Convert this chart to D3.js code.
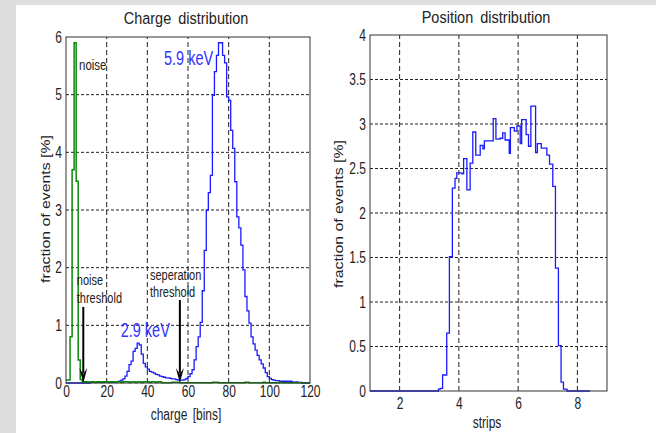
<!DOCTYPE html>
<html lang="en">
<head>
<meta charset="UTF-8">
<title>Charge and position distribution</title>
<script src="https://d3js.org/d3.v7.min.js"></script>
<style>
  body { margin: 0; }
  svg { display: block; font-family: "Liberation Sans", Arial, sans-serif; }
</style>
</head>
<body>
<script>
// ---- data ----
// charge histogram: bin i covers [i, i+1)
const chargeEdges = d3.range(0, 121);
const blueFrac = [
  0, 0, 0, 0, 0, 0, 0, 0, 0, 0,
  0, 0, 0.01, 0.02, 0.01, 0.01, 0.01, 0.01, 0.01, 0.02,
  0.02, 0.01, 0.01, 0.01, 0.01, 0.02, 0.03, 0.05, 0.07, 0.12,
  0.2, 0.32, 0.38, 0.55, 0.6, 0.69, 0.66, 0.5, 0.34, 0.28,
  0.24, 0.2, 0.19, 0.17, 0.15, 0.14, 0.12, 0.11, 0.1, 0.09,
  0.09, 0.08, 0.07, 0.07, 0.06, 0.05, 0.05, 0.05, 0.06, 0.08,
  0.11, 0.16, 0.23, 0.4, 0.63, 0.8, 1.05, 1.6, 2.3, 3.0,
  3.3, 3.6, 4.99, 5.4, 5.68, 5.9, 5.9, 5.68, 5.55, 4.96,
  4.9, 4.38, 4.07, 3.49, 2.88, 2.69, 2.39, 1.96, 1.5, 1.25,
  1.04, 0.8, 0.68, 0.57, 0.48, 0.4, 0.33, 0.26, 0.18, 0.11,
  0.08, 0.06, 0.05, 0.04, 0.04, 0.03, 0.03, 0.03, 0.03, 0.03,
  0.03, 0.02, 0.01, 0.02, 0.01, 0.01, 0, 0, 0, 0
];
const greenFrac = [
  0.05, 0.05, 0.8, 3.7, 5.9, 3.5, 0.4, 0.06, 0.02, 0.02,
  0.02, 0.01, 0.02, 0.02, 0.01, 0.02, 0.02, 0.01, 0.02, 0.02,
  0.02, 0.01, 0.02, 0.02, 0.01, 0.02, 0.02, 0.01, 0.02, 0.02,
  0.02, 0.01, 0.02, 0.02, 0.01, 0.02, 0.02, 0.01, 0.02, 0.02,
  0.02, 0.01, 0.02, 0.02, 0.01, 0.02, 0.02, 0.005, 0.005, 0.005,
  0.005, 0.005, 0.015, 0.015, 0.015, 0.015, 0.005, 0.005, 0.005, 0.005,
  0.005, 0.005, 0.005, 0.005, 0.005, 0.005, 0.005, 0.005, 0.005, 0.005,
  0.005, 0.005, 0.015, 0.015, 0.015, 0.005, 0.005, 0.005, 0.005, 0.005,
  0.005, 0.005, 0.005, 0.005, 0.005, 0.005, 0.005, 0.005, 0.015, 0.015,
  0.005, 0.005, 0.005, 0.005, 0.005, 0.005, 0.005, 0.015, 0.005, 0.005,
  0.005, 0.005, 0.005, 0.005, 0.005, 0.015, 0.005, 0.005, 0.005, 0.005,
  0.005, 0.005, 0.005, 0.005, 0.005, 0.005, 0.005, 0.005, 0.005, 0.005
];
const chargeTicks = [0, 20, 40, 60, 80, 100, 120];
const chargeFracTicks = [0, 1, 2, 3, 4, 5, 6];

// position histogram: step i covers [stripEdges[i], stripEdges[i+1])
const stripEdges = [1.00, 3.31, 3.37, 3.45, 3.59, 3.68, 3.78, 3.87, 3.93, 4.10, 4.16,
  4.27, 4.38, 4.47, 4.57, 4.72, 4.81, 4.86, 5.16, 5.25, 5.39, 5.48, 5.56, 5.70, 5.74,
  5.87, 5.96, 6.07, 6.12, 6.27, 6.35, 6.43, 6.59, 6.65, 6.78, 6.97, 7.06, 7.17, 7.26,
  7.36, 7.45, 7.53, 7.65, 8.43];
const stripFrac = [0, 0.02, 0.03, 0.18, 0.65, 1.51, 2.28, 2.39, 2.45, 2.44, 2.61,
  2.26, 2.56, 2.91, 2.65, 2.76, 2.72, 2.81, 3.06, 2.83, 2.84, 2.90, 2.82, 2.67, 2.96,
  2.92, 2.98, 2.78, 3.05, 2.88, 2.75, 3.20, 2.68, 2.78, 2.73, 2.65, 2.55, 2.30, 1.38,
  0.51, 0.10, 0.02, 0];
const stripTicks = [2, 4, 6, 8];
const stripFracTicks = [0, 0.5, 1, 1.5, 2, 2.5, 3, 3.5, 4];

// thresholds (charge, arrow top in %)
const thresholdNames = [["noise", "threshold"], ["seperation", "threshold"]];
const thresholdCharge = [8.5, 56];
const thresholdTop = [1.32, 1.44];

// ---- drawing ----
const width = 656, height = 433;
const svg = d3.select("body").append("svg")
  .attr("width", width)
  .attr("height", height);

svg.append("rect").attr("width", width).attr("height", height).attr("fill", "#dddddd");
svg.append("rect").attr("x", 16).attr("y", 5)
  .attr("width", width - 16).attr("height", height - 5).attr("fill", "#fff");

const ink = "#222";

// text that is taller than it is wide, like the old bitmap font
function stretchText(g, x, y, str, size, anchor, color, sy, rot) {
  return g.append("text")
    .attr("transform", `translate(${x},${y}) scale(1,${sy})` + (rot ? ` rotate(${rot})` : ""))
    .attr("text-anchor", anchor)
    .attr("font-size", size)
    .attr("fill", color)
    .text(str);
}

function drawPanel(x, y, xt, yt, xPad) {
  const g = svg.append("g");
  const [x0, x1] = x.range(), [y0, y1] = y.range();

  // dashed grid
  g.selectAll(".vgrid").data(xt.filter(d => x(d) > x0 + 1 && x(d) < x1 - 1))
    .enter().append("line")
    .attr("x1", d => x(d)).attr("x2", d => x(d))
    .attr("y1", y0).attr("y2", y1)
    .attr("stroke", ink).attr("stroke-dasharray", "5,3");
  g.selectAll(".hgrid").data(yt.filter(d => y(d) < y0 - 1 && y(d) > y1 + 1))
    .enter().append("line")
    .attr("x1", x0).attr("x2", x1)
    .attr("y1", d => y(d)).attr("y2", d => y(d))
    .attr("stroke", ink).attr("stroke-dasharray", "3,2");

  g.append("g")
    .attr("transform", `translate(0,${y0})`)
    .call(d3.axisBottom(x).tickValues(xt).tickSize(0).tickPadding(xPad))
    .call(a => a.select(".domain").remove())
    .selectAll("text")
    .attr("font-size", 12).attr("fill", ink)
    .attr("font-family", "Liberation Sans, Arial, sans-serif")
    .attr("transform", "scale(1,1.35)");

  g.append("g")
    .attr("transform", `translate(${x0},0)`)
    .call(d3.axisLeft(y).tickValues(yt).tickSize(0).tickPadding(4).tickFormat(d3.format("~g")))
    .call(a => a.select(".domain").remove())
    .selectAll("text")
    .attr("font-size", 12).attr("fill", ink)
    .attr("font-family", "Liberation Sans, Arial, sans-serif")
    .attr("transform", "scale(1,1.35)");

  return g;
}

function closeFrame(g, x, y) {
  const [x0, x1] = x.range(), [y0, y1] = y.range();
  g.append("rect")
    .attr("x", x0).attr("y", y1)
    .attr("width", x1 - x0).attr("height", y0 - y1)
    .attr("fill", "none").attr("stroke", "#333");
}

// ---- left: charge distribution ----
const xC = d3.scaleLinear().domain([0, 120]).range([66, 310]);
const yC = d3.scaleLinear().domain([0, 6]).range([383, 37]);
const left = drawPanel(xC, yC, chargeTicks, chargeFracTicks, 2);

const stepC = d3.line()
  .x(d => xC(d[0])).y(d => yC(d[1]))
  .curve(d3.curveStepAfter);
function histPoints(edges, vals) {
  const pts = vals.map((v, i) => [edges[i], v]);
  pts.push([edges[vals.length], vals[vals.length - 1]]);
  return pts;
}

left.append("path")
  .datum(histPoints(chargeEdges, blueFrac))
  .attr("d", stepC)
  .attr("fill", "none").attr("stroke", "#1a1aff").attr("stroke-width", 1.3);
left.append("path")
  .datum(histPoints(chargeEdges, greenFrac))
  .attr("d", stepC)
  .attr("fill", "none").attr("stroke", "#0a8a0a").attr("stroke-width", 1.5);

// threshold arrows
thresholdCharge.forEach((c, i) => {
  const cx = xC(c), base = yC(0);
  left.append("line")
    .attr("x1", cx).attr("x2", cx)
    .attr("y1", yC(thresholdTop[i])).attr("y2", base - 10)
    .attr("stroke", "#000").attr("stroke-width", 2);
  left.append("path")
    .attr("d", `M${cx - 4},${base - 15} L${cx},${base - 9} L${cx + 4},${base - 15} L${cx},${base} Z`)
    .attr("fill", "#000");
});

stretchText(left, xC(5.3), yC(1.70), thresholdNames[0][0], 11, "start", ink, 1.4);
stretchText(left, xC(5.3), yC(1.38), thresholdNames[0][1], 11, "start", ink, 1.4);
stretchText(left, xC(41.3), yC(1.79), thresholdNames[1][0], 11, "start", ink, 1.4);
stretchText(left, xC(41.3), yC(1.49), thresholdNames[1][1], 11, "start", ink, 1.4);
stretchText(left, xC(6.4), yC(5.42), "noise", 11.5, "start", ink, 1.3);
stretchText(left, xC(48.2), yC(5.51), "5.9 keV", 14.5, "start", "#3333ff", 1.4);
stretchText(left, xC(26.9), yC(0.8), "2.9 keV", 14.5, "start", "#3333ff", 1.4);

closeFrame(left, xC, yC);

stretchText(svg, 186, 24, "Charge distribution", 14.5, "middle", ink, 1.18)
  .attr("word-spacing", 3);
stretchText(svg, 186, 420, "charge [bins]", 12, "middle", ink, 1.3)
  .attr("word-spacing", 2);
stretchText(svg, 50, 209, "fraction of events [%]", 12, "middle", ink, 1.32, -90);

// ---- right: position distribution ----
const xS = d3.scaleLinear().domain([1, 9]).range([370, 607]);
const yS = d3.scaleLinear().domain([0, 4]).range([391, 35]);
const right = drawPanel(xS, yS, stripTicks, stripFracTicks, 5);

const stepS = d3.line()
  .x(d => xS(d[0])).y(d => yS(d[1]))
  .curve(d3.curveStepAfter);
right.append("path")
  .datum(histPoints(stripEdges, stripFrac))
  .attr("d", stepS)
  .attr("fill", "none").attr("stroke", "#1a1aff").attr("stroke-width", 1.3);

closeFrame(right, xS, yS);

stretchText(svg, 486, 23, "Position distribution", 14.5, "middle", ink, 1.18)
  .attr("word-spacing", 3);
stretchText(svg, 487, 428, "strips", 12, "middle", ink, 1.3);
stretchText(svg, 343, 214, "fraction of events [%]", 12, "middle", ink, 1.32, -90);
</script>
</body>
</html>
